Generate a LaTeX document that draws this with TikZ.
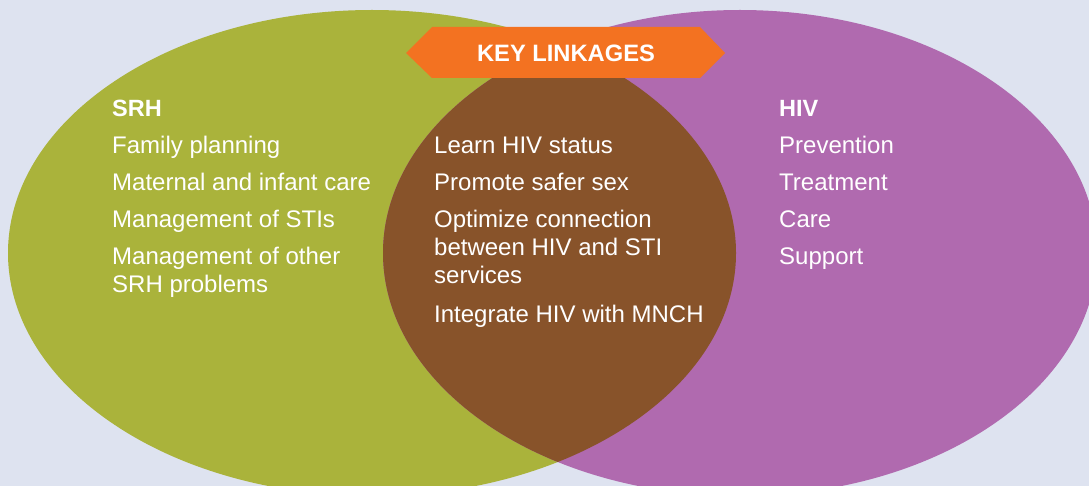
\documentclass[tikz,border=0pt]{standalone}
\usepackage{fontspec}
\setmainfont{Liberation Sans}
\definecolor{bgc}{HTML}{DEE3F0}
\definecolor{srhc}{HTML}{AAB33B}
\definecolor{hivc}{HTML}{B06AAF}
\definecolor{linkc}{HTML}{88532A}
\definecolor{bannerc}{HTML}{F37221}
\begin{document}
\begin{tikzpicture}[x=1pt,y=-1pt,
  txt/.style={anchor=base west,inner sep=0pt,text=white,font=\fontsize{24}{28}\selectfont},
  head/.style={txt,font=\fontsize{23.5}{28}\selectfont\bfseries},
  banner/.style={fill=bannerc,draw=none}]
\fill[bgc] (0,0) rectangle (1089,486);
\useasboundingbox (0,0) rectangle (1089,486);
\fill[srhc] (372,253) ellipse [x radius=364, y radius=243];
\fill[hivc] (740,253) ellipse [x radius=357, y radius=243];
\begin{scope}
  \clip (372,253) ellipse [x radius=364, y radius=243];
  \fill[linkc] (740,253) ellipse [x radius=357, y radius=243];
\end{scope}
% banner
\coordinate (bl) at (406,53);
\coordinate (br) at (725,53);
\fill[banner] (bl) -- (432,27) -- (700,27) -- (br) -- (700,78) -- (432,78) -- cycle;
\node[inner sep=0pt,text=white,font=\fontsize{23.7}{28}\selectfont\bfseries,anchor=base] (key) at (566,62) {KEY LINKAGES};
% SRH
\node[head] (srh) at (112,116.5) {SRH};
\node[txt] (s1) at (112,153.5) {Family planning};
\node[txt] (s2) at (112,190.5) {Maternal and infant care};
\node[txt] (s3) at (112,227.5) {Management of STIs};
\node[txt] (s4a) at (112,264.5) {Management of other};
\node[txt] (s4b) at (112,292.5) {SRH problems};
% linkages
\node[txt] (k1) at (434,153.5) {Learn HIV status};
\node[txt] (k2) at (434,190.5) {Promote safer sex};
\node[txt] (k3a) at (434,227.5) {Optimize connection};
\node[txt] (k3b) at (434,255.5) {between HIV and STI};
\node[txt] (k3c) at (434,283.5) {services};
\node[txt] (k4) at (434,322) {Integrate HIV with MNCH};
% HIV
\node[head] (hiv) at (779,116.5) {HIV};
\node[txt] (h1) at (779,153.5) {Prevention};
\node[txt] (h2) at (779,190.5) {Treatment};
\node[txt] (h3) at (779,227.5) {Care};
\node[txt] (h4) at (779,264.5) {Support};
\end{tikzpicture}
\end{document}
